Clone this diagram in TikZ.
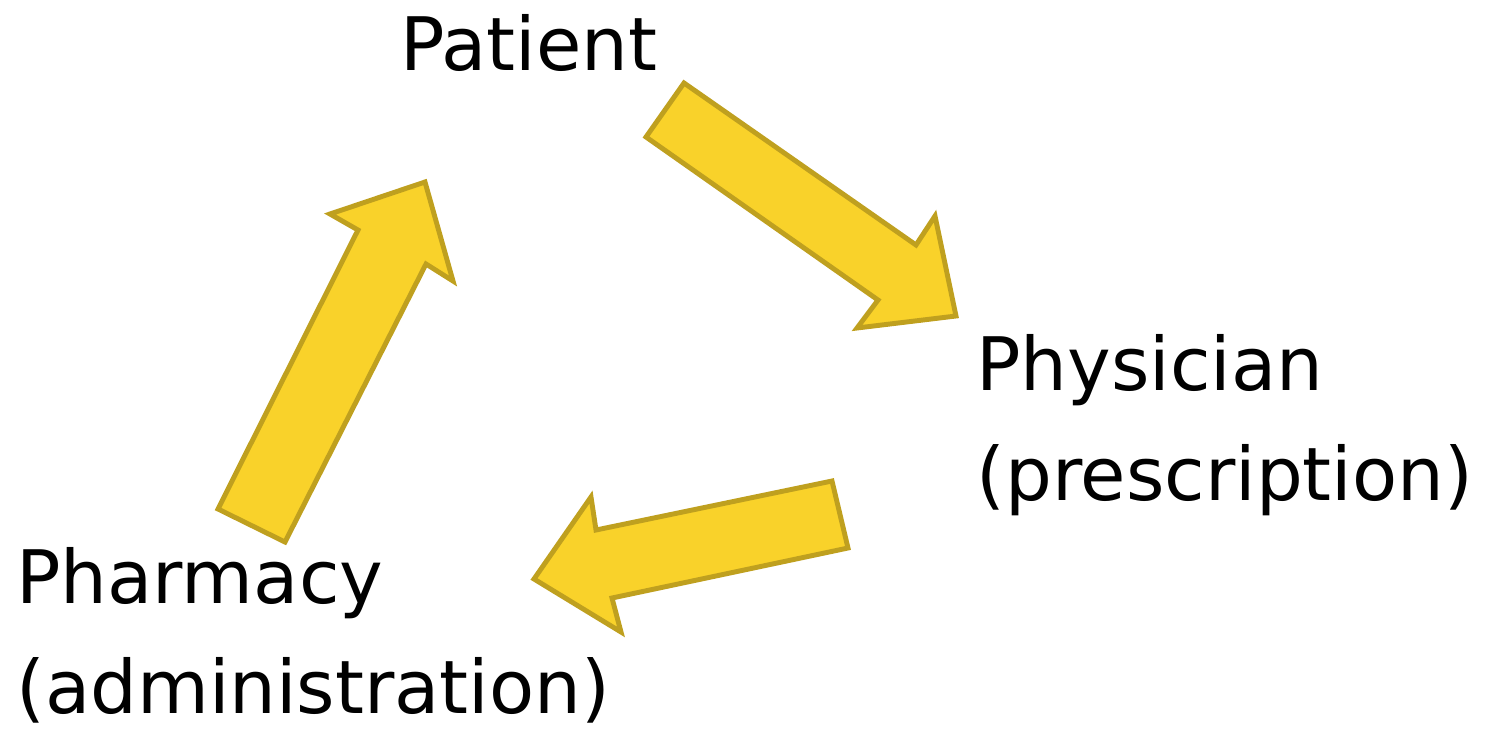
\documentclass[tikz,border=0pt]{standalone}
\usepackage{fontspec}
\setmainfont{DejaVu Sans}
\definecolor{arrowfill}{HTML}{F9D22A}
\definecolor{arrowline}{HTML}{BFA01F}

\begin{document}
\begin{tikzpicture}[
  x=0.02cm, y=-0.02cm,
  role/.style={inner sep=0pt,anchor=base west,align=left,font=\fontsize{42}{62.5}\selectfont},
  blockarrow/.style={fill=arrowfill,draw=arrowline,line width=2.8pt,line join=miter}
]
\useasboundingbox (0,0) rectangle (1490,730);

\node[role] (patient) at (400,70) {Patient};
\node[role] (physician) at (976,500) {Physician\\(prescription)};
\node[role] (pharmacy) at (16,713) {Pharmacy\\(administration)};

% patient -> physician
\draw[blockarrow] (684,83) -- (916,245) -- (935,216) -- (956,316) -- (857,328) -- (878,300) -- (646,137) -- cycle;
% physician -> pharmacy
\draw[blockarrow] (832,481) -- (848,548) -- (612,598) -- (621,632) -- (534,579) -- (591,497) -- (596,530) -- cycle;
% pharmacy -> patient
\draw[blockarrow] (218,509) -- (358,230) -- (330,214) -- (425,182) -- (453,281) -- (426,264) -- (285,542) -- cycle;
\end{tikzpicture}
\end{document}
